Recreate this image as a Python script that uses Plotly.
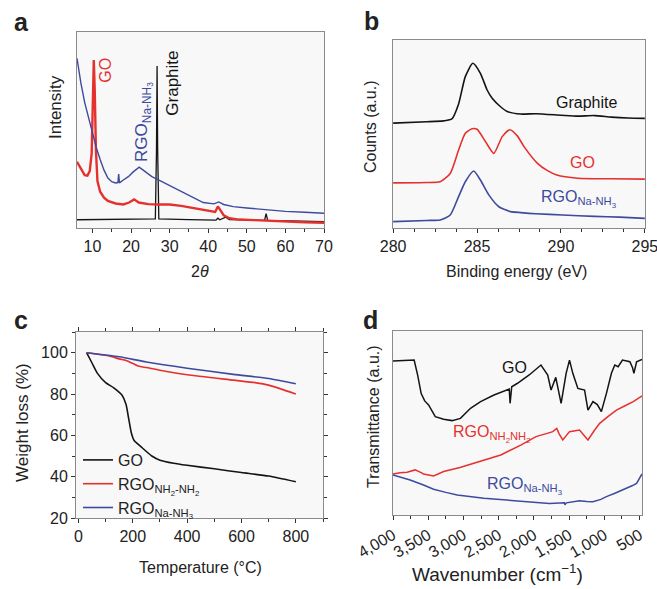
import plotly.graph_objects as go

W, H = 657, 589
FONT = "Arial, Liberation Sans, sans-serif"
BLACK, RED, BLUE = "#141414", "#e5312e", "#3d4a9e"
FRAME = "#8a8a8a"
BG = "#f8f8f8"

# ---- (a) XRD patterns: 2theta vs intensity (a.u.) ----
xrd_graphite_x = [6, 15, 20, 26.3, 26.6, 26.75, 26.9, 27.2, 35, 42, 42.5, 43, 44.5, 45.5, 54.6, 55, 55.4, 60, 70]
xrd_graphite_y = [4.2, 4.3, 4.4, 4.6, 40, 82.6, 40, 4.6, 4.3, 4.0, 5.0, 4.2, 5.5, 4.3, 3.9, 7.3, 3.9, 3.7, 3.3]
xrd_go_x = [6, 7, 8, 8.7, 9.3, 9.8, 10.1, 10.35, 10.6, 10.9, 11.3, 12, 13, 14, 16, 18, 19.5, 20.8, 22,
            24.5, 27, 30, 33, 36, 38, 40, 41.8, 42.5, 43, 44, 45.5, 48, 52, 55, 60, 65, 70]
xrd_go_y = [33.8, 30.5, 27, 26.7, 29, 38, 65, 85.7, 70, 40, 24, 18.5, 15.5, 13.8, 12.5, 12, 13, 14.6, 13,
            12.2, 12, 12, 11.3, 10.3, 9.3, 8.7, 8.2, 11, 9.5, 6.5, 5, 4.3, 4, 3.7, 3.2, 2.9, 2.7]
xrd_rgo_x = [6, 6.5, 7, 8, 9, 10, 11, 12, 13, 14, 15, 16, 16.6, 16.8, 17, 18, 19.3, 20.5, 22.1, 23.5,
             25.4, 28, 31.4, 35, 38.7, 41.5, 42.7, 44, 46.5, 50, 55, 60, 65, 70]
xrd_rgo_y = [86.6, 80, 74, 64, 56, 49, 41, 35, 29.5, 25.5, 23.6, 23, 23.2, 27.5, 23, 24.5, 26.2, 28.5, 31, 29,
             26.2, 23.6, 20.2, 16.5, 13, 12.3, 13.3, 12, 10.9, 10.2, 9.2, 8.5, 8, 7.5]

# ---- (b) C1s XPS spectra ----
xps_graphite_x = [280, 282, 283, 283.5, 283.9, 284.3, 284.75, 285.2, 285.6, 285.9, 286.4, 286.8, 287.6,
                  288.5, 290, 291, 292, 293, 294, 295]
xps_graphite_y = [55.8, 56.5, 57, 58, 66, 80.5, 87.6, 82.3, 73.4, 69, 64.5, 62, 60.6,
                  60.8, 60, 59.5, 59.8, 59, 58.5, 58.3]
xps_go_x = [280, 282, 282.8, 283.4, 283.9, 284.3, 284.7, 285.0, 285.5, 286.0, 286.5, 286.95, 287.4,
            287.8, 288.6, 289.2, 289.75, 291, 293, 295]
xps_go_y = [24, 24.2, 24.6, 29, 41.5, 50.4, 52.8, 52.5, 46, 39.7, 48.6, 52.3, 49,
            43.3, 34.4, 30.5, 28.2, 26.5, 26.2, 26]
xps_rgo_x = [280, 282, 282.8, 283.4, 283.9, 284.3, 284.8, 285.2, 285.7, 286.3, 287.0, 287.6, 288.5,
             290.1, 292, 293.5, 295]
xps_rgo_y = [3.4, 4, 4.3, 6.9, 16.7, 24.6, 30.3, 25.5, 17.6, 11.3, 8.7, 8.2, 7.6,
             6.9, 6.2, 5.8, 5.1]

# ---- (c) TGA curves ----
tga_go_t = [30, 50, 70, 100, 130, 160, 175, 185, 195, 205, 230, 270, 300, 350, 400, 500, 600, 700, 800]
tga_go_w = [100, 95, 90, 85.5, 83, 79.5, 75, 68, 61, 57.5, 54.5, 50, 48, 46.5, 45.5, 43.8, 42, 40.3, 37.5]
tga_hyd_t = [30, 110, 150, 180, 220, 250, 300, 400, 570, 650, 700, 800]
tga_hyd_w = [100, 98.5, 97, 96, 93.5, 92.8, 91.5, 89.3, 86.7, 85.5, 84.3, 80]
tga_na_t = [30, 150, 250, 400, 570, 700, 800]
tga_na_w = [100, 98, 95.5, 92.5, 89.5, 87.5, 85]

# ---- (d) FTIR spectra ----
ir_go_k = [4000, 3800, 3700, 3650, 3600, 3550, 3495, 3400, 3281, 3162, 3043, 2900, 2757, 2567, 2400, 2350,
           2338, 2315, 2233, 2067, 1900, 1804, 1757, 1710, 1690, 1614, 1543, 1495, 1448, 1376, 1281,
           1233, 1162, 1100, 1043, 971, 900, 852, 805, 743, 638, 600, 581, 543, 466]
ir_go_t = [83.7, 84, 84.2, 76, 66, 62, 59.8, 53.4, 52, 51.3, 52.5, 58, 61.6, 65.2, 67.9, 68.5,
           60.7, 69.7, 71.6, 76.1, 81.5, 76.1, 67.9, 73.4, 74.8, 60.7, 77, 84.2, 77, 68.8, 67.9,
           57, 61.6, 60, 56.2, 66.1, 77, 81.5, 80.6, 84.2, 83.3, 80, 77, 83.3, 84.6]
ir_hyd_k = [4000, 3900, 3800, 3686, 3600, 3567, 3424, 3281, 3050, 2852, 2471, 2186, 1971, 1800, 1733,
            1676, 1640, 1590, 1530, 1495, 1353, 1300, 1233, 1150, 1067, 950, 829, 700, 590, 466]
ir_hyd_t = [22.3, 23, 23.2, 24.5, 23, 22.3, 21.2, 23.6, 25.8, 28.1, 32.6, 38, 42.6, 44.5, 45.3,
            47.1, 44, 40.8, 44, 45.3, 46.2, 44, 40.8, 45.5, 49.8, 53.5, 57, 59.5, 61.6, 64.7]
ir_na_k = [4000, 3757, 3567, 3424, 3250, 3090, 2710, 2233, 2000, 1781, 1567, 1560, 1540, 1353, 1250,
           1162, 1050, 971, 850, 733, 600, 543, 466]
ir_na_t = [21.7, 19, 16.3, 14, 12.3, 10.9, 9.1, 7.8, 7, 6.3, 6.6, 5.6, 6.6, 7.8, 7.4,
           7.2, 8.5, 10, 11.8, 13.6, 16, 17.2, 22.3]

# Legend / label texts
LBL_GO = "GO"
LBL_GRAPHITE = "Graphite"
LBL_RGO_NA = "RGO<sub>Na-NH<sub>3</sub></sub>"
LBL_RGO_HYD = "RGO<sub>NH<sub>2</sub>-NH<sub>2</sub></sub>"
LBL_RGO_HYD_IR = "RGO<sub>NH<sub>2</sub>NH<sub>2</sub></sub>"


def px(x):
    return x / W


def py(y):
    return 1 - y / H


fig = go.Figure()


def line(x, y, color, width, axes, name=None, legend=False, smooth=False):
    shape = dict(shape="spline", smoothing=0.6) if smooth else dict(shape="linear")
    fig.add_trace(go.Scatter(x=x, y=y, mode="lines", line=dict(color=color, width=width, **shape),
                             xaxis=axes[0], yaxis=axes[1], name=name, showlegend=legend,
                             hoverinfo="skip"))


line(xrd_graphite_x, xrd_graphite_y, BLACK, 1.3, ("x", "y"))
line(xrd_go_x, xrd_go_y, RED, 2.4, ("x", "y"))
line(xrd_rgo_x, xrd_rgo_y, BLUE, 1.4, ("x", "y"))

line(xps_graphite_x, xps_graphite_y, BLACK, 1.6, ("x2", "y2"), smooth=True)
line(xps_go_x, xps_go_y, RED, 1.6, ("x2", "y2"), smooth=True)
line(xps_rgo_x, xps_rgo_y, BLUE, 1.6, ("x2", "y2"), smooth=True)

line(tga_go_t, tga_go_w, BLACK, 1.6, ("x3", "y3"), LBL_GO, True, smooth=True)
line(tga_hyd_t, tga_hyd_w, RED, 1.6, ("x3", "y3"), LBL_RGO_HYD, True, smooth=True)
line(tga_na_t, tga_na_w, BLUE, 1.6, ("x3", "y3"), LBL_RGO_NA, True, smooth=True)

line(ir_go_k, ir_go_t, BLACK, 1.5, ("x4", "y4"))
line(ir_hyd_k, ir_hyd_t, RED, 1.5, ("x4", "y4"))
line(ir_na_k, ir_na_t, BLUE, 1.5, ("x4", "y4"))

axis_common = dict(showline=True, linecolor=FRAME, linewidth=1, mirror=True, showgrid=False,
                   zeroline=False, ticks="outside", tickcolor="#333", ticklen=4, automargin=False,
                   ticklabeloverflow="allow",
                   tickfont=dict(family=FONT, size=16, color="#222"))

fig.update_layout(
    width=W, height=H, margin=dict(l=0, r=0, t=0, b=0, autoexpand=False),
    paper_bgcolor="white", plot_bgcolor=BG,
    font=dict(family=FONT, color="#222"),
    # (a)
    xaxis=dict(axis_common, domain=[px(77), px(324)], anchor="y", range=[6, 70], dtick=10,
               minor=dict(dtick=5, ticks="outside", ticklen=3, tickcolor="#333")),
    yaxis=dict(axis_common, domain=[py(228), py(32)], anchor="x", range=[0, 100],
               ticks="", showticklabels=False),
    # (b)
    xaxis2=dict(axis_common, domain=[px(393), px(645)], anchor="y2", range=[279.99, 295.01],
                tickvals=[280, 285, 290, 295],
                minor=dict(dtick=1.25, ticks="outside", ticklen=3, tickcolor="#333")),
    yaxis2=dict(axis_common, domain=[py(228), py(40)], anchor="x2", range=[0, 100],
                ticks="", showticklabels=False),
    # (c)
    xaxis3=dict(axis_common, domain=[px(76), px(323)], anchor="y3", range=[-9, 900],
                tickvals=[0, 200, 400, 600, 800], mirror="ticks",
                minor=dict(dtick=100, ticks="outside", ticklen=3, tickcolor="#333")),
    yaxis3=dict(axis_common, domain=[py(518), py(332)], anchor="x3", range=[20, 110],
                tickvals=[20, 40, 60, 80, 100], mirror="ticks",
                minor=dict(dtick=10, ticks="outside", ticklen=3, tickcolor="#333")),
    # (d)
    xaxis4=dict(axis_common, domain=[px(393), px(642)], anchor="y4", range=[4000, 466],
                tickvals=[4000, 3500, 3000, 2500, 2000, 1500, 1000, 500], tickformat=",d",
                tickangle=-30,
                minor=dict(dtick=250, ticks="outside", ticklen=3, tickcolor="#333")),
    yaxis4=dict(axis_common, domain=[py(515), py(331)], anchor="x4", range=[0, 100],
                ticks="", showticklabels=False),
    legend=dict(x=px(78), y=py(443), xanchor="left", yanchor="top", bgcolor="rgba(0,0,0,0)",
                font=dict(family=FONT, size=16, color="#222"), tracegroupgap=0,
                itemwidth=30),
)

ann = []


def note(text, x, y, xref, yref, size=16, color="#222", angle=0, xanchor="center",
         yanchor="middle", bold=False):
    if bold:
        text = "<b>" + text + "</b>"
    ann.append(dict(text=text, x=x, y=y, xref=xref, yref=yref, showarrow=False,
                    font=dict(family=FONT, size=size, color=color), textangle=angle,
                    xanchor=xanchor, yanchor=yanchor))


# panel letters
note("a", px(21), py(22), "paper", "paper", size=25, bold=True)
note("b", px(371), py(21), "paper", "paper", size=25, bold=True)
note("c", px(21), py(320), "paper", "paper", size=25, bold=True)
note("d", px(370), py(320), "paper", "paper", size=25, bold=True)

# (a) labels
note("Intensity", px(55), py(107), "paper", "paper", size=17, angle=-90)
note("2<i>θ</i>", px(200), py(272), "paper", "paper", size=16)
note(LBL_GO, 13.2, 80.6, "x", "y", size=16, color=RED, angle=-90)
note(LBL_RGO_NA, 23.4, 54.2, "x", "y", size=17, color=BLUE, angle=-90)
note(LBL_GRAPHITE, 30.7, 73.8, "x", "y", size=17, color=BLACK, angle=-90)

# (b) labels
note("Counts (a.u.)", px(370), py(127), "paper", "paper", size=16, angle=-90)
note("Binding energy (eV)", px(516), py(272), "paper", "paper", size=16)
note(LBL_GRAPHITE, 291.5, 67, "x2", "y2", size=16, color=BLACK)
note(LBL_GO, 291.3, 34.8, "x2", "y2", size=16, color=RED)
note(LBL_RGO_NA, 291.1, 15.5, "x2", "y2", size=16, color=BLUE)

# (c) labels
note("Weight loss (%)", px(22), py(423), "paper", "paper", size=17, angle=-90)
note("Temperature (°C)", px(200), py(567), "paper", "paper", size=16)

# (d) labels
note("Transmittance (a.u.)", px(373), py(417), "paper", "paper", size=16, angle=-90)
note("Wavenumber (cm<sup>−1</sup>)", px(497), py(573), "paper", "paper", size=19)
note(LBL_GO, 2270, 80.4, "x4", "y4", size=16, color=BLACK)
note(LBL_RGO_HYD_IR, 2600, 44, "x4", "y4", size=16, color=RED)
note(LBL_RGO_NA, 2130, 16, "x4", "y4", size=16, color=BLUE)

fig.update_layout(annotations=ann)
fig.write_html("out.html")
